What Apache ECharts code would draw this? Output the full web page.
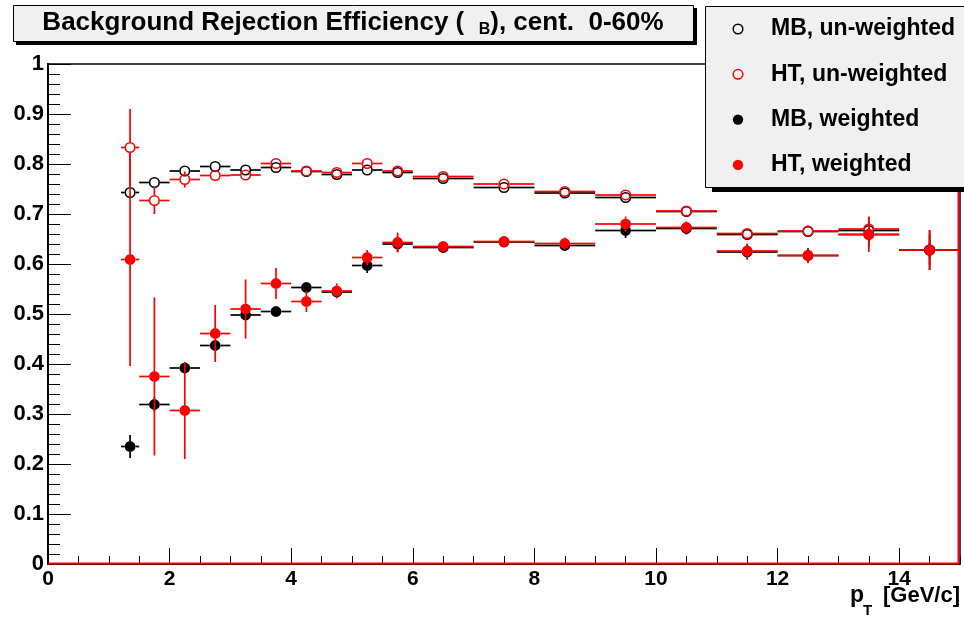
<!DOCTYPE html>
<html><head><meta charset="utf-8">
<script src="https://cdn.jsdelivr.net/npm/echarts@6/dist/echarts.min.js"></script>
<style>html,body{margin:0;padding:0;background:#fff}#c{width:964px;height:619px}</style>
</head><body><div id="c"></div>
<script>
// ---- data ----
const binLow  = [1.2, 1.5, 2.0, 2.5, 3.0, 3.5, 4.0, 4.5, 5.0, 5.5, 6, 7, 8, 9, 10, 11, 12, 13, 14];
const binHigh = [1.5, 2.0, 2.5, 3.0, 3.5, 4.0, 4.5, 5.0, 5.5, 6.0, 7, 8, 9, 10, 11, 12, 13, 14, 15];

const mbUnweighted    = [0.743, 0.763, 0.786, 0.795, 0.788, 0.793, 0.785, 0.779, 0.788, 0.783, 0.771, 0.753, 0.742, 0.733, 0.705, 0.659, 0.665, 0.667, 0.628];
const mbUnweightedErr = [0.008, 0.006, 0.005, 0.005, 0.004, 0.004, 0.004, 0.004, 0.004, 0.005, 0.004, 0.004, 0.005, 0.006, 0.006, 0.008, 0.010, 0.012, 0.015];

const htUnweighted    = [0.833, 0.727, 0.769, 0.777, 0.778, 0.801, 0.786, 0.783, 0.801, 0.786, 0.775, 0.760, 0.745, 0.738, 0.706, 0.661, 0.666, 0.670, 0.628];
const htUnweightedErr = [0.077, 0.027, 0.016, 0.008, 0.008, 0.006, 0.006, 0.006, 0.006, 0.006, 0.005, 0.005, 0.006, 0.007, 0.008, 0.010, 0.012, 0.025, 0.030];

const mbWeighted    = [0.235, 0.319, 0.392, 0.437, 0.498, 0.505, 0.553, 0.544, 0.597, 0.640, 0.633, 0.644, 0.637, 0.667, 0.671, 0.624, 0.617, 0.659, 0.628];
const mbWeightedErr = [0.023, 0.014, 0.012, 0.010, 0.010, 0.008, 0.008, 0.008, 0.015, 0.015, 0.008, 0.008, 0.010, 0.015, 0.012, 0.015, 0.015, 0.025, 0.040];

const htWeighted    = [0.609, 0.375, 0.307, 0.461, 0.510, 0.561, 0.525, 0.546, 0.613, 0.643, 0.635, 0.645, 0.641, 0.680, 0.673, 0.626, 0.617, 0.659, 0.628];
const htWeightedErr = [0.213, 0.158, 0.097, 0.057, 0.059, 0.031, 0.021, 0.015, 0.015, 0.020, 0.008, 0.010, 0.012, 0.015, 0.012, 0.015, 0.015, 0.035, 0.040];

const seriesNames = ['MB, un-weighted', 'HT, un-weighted', 'MB, weighted', 'HT, weighted'];
const yTickLabels = ['0','0.1','0.2','0.3','0.4','0.5','0.6','0.7','0.8','0.9','1'];
const xTickLabels = ['0','2','4','6','8','10','12','14'];

// ---- chart ----
const FONT = '"Liberation Sans", Arial, Helvetica, sans-serif';
const chart = echarts.init(document.getElementById('c'), null, {renderer: 'canvas'});

function makeSeries(name, vals, errs, color, open, z) {
  const data = vals.map((v, i) => [(binLow[i] + binHigh[i]) / 2, v, binLow[i], binHigh[i], errs[i]]);
  return {
    type: 'custom', name, data, z,
    xAxisIndex: 0, yAxisIndex: 0,
    encode: {x: 0, y: 1},
    renderItem(params, api) {
      const x = api.value(0), y = api.value(1), e = api.value(4);
      const c = api.coord([x, y]);
      const lo = api.coord([api.value(2), y]);
      const hi = api.coord([api.value(3), y]);
      const top = api.coord([x, y + e]);
      const bot = api.coord([x, y - e]);
      const r = 5.4;
      const ls = {stroke: color, lineWidth: 1.7};
      const ch = [];
      ch.push({type: 'line', shape: {x1: lo[0], y1: c[1], x2: c[0] - r, y2: c[1]}, style: ls});
      ch.push({type: 'line', shape: {x1: c[0] + r, y1: c[1], x2: hi[0], y2: c[1]}, style: ls});
      if (c[1] - top[1] > r) ch.push({type: 'line', shape: {x1: c[0], y1: top[1], x2: c[0], y2: c[1] - r}, style: ls});
      if (bot[1] - c[1] > r) ch.push({type: 'line', shape: {x1: c[0], y1: c[1] + r, x2: c[0], y2: bot[1]}, style: ls});
      ch.push({type: 'circle', shape: {cx: c[0], cy: c[1], r: open ? r - 0.6 : r},
        style: open ? {fill: null, stroke: color, lineWidth: 1.6} : {fill: color}});
      return {type: 'group', children: ch};
    }
  };
}

const frameSeries = {
  type: 'custom', name: 'frame', z: 20, silent: true,
  xAxisIndex: 0, yAxisIndex: 0,
  data: [[15, 0]],
  renderItem(params, api) {
    const p0 = api.coord([0, 0]);
    const p1 = api.coord([15, 0]);
    const p2 = api.coord([15, 1]);
    return {type: 'group', children: [
      {type: 'line', shape: {x1: p0[0], y1: p0[1] - 0.5, x2: p1[0] - 1, y2: p1[1] - 0.5}, style: {stroke: '#ff0000', lineWidth: 2.2}},
      {type: 'line', shape: {x1: p1[0] - 1.5, y1: p1[1], x2: p2[0] - 1.5, y2: p2[1]}, style: {stroke: '#ff0000', lineWidth: 2}}
    ]};
  }
};

const legendRows = [
  {name: seriesNames[0], color: '#000', open: true},
  {name: seriesNames[1], color: '#ff0000', open: true},
  {name: seriesNames[2], color: '#000', open: false},
  {name: seriesNames[3], color: '#ff0000', open: false}
];
const legendChildren = [
  {type: 'rect', z: 100, shape: {x: 712, y: 11, width: 260, height: 181}, style: {fill: '#000'}},
  {type: 'rect', z: 101, shape: {x: 705.5, y: 6.5, width: 262, height: 181}, style: {fill: '#f0f0f0', stroke: '#000', lineWidth: 1}}
];
legendRows.forEach((row, i) => {
  const cy = 29 + i * 45.3;
  legendChildren.push({type: 'circle', z: 102, shape: {cx: 738, cy, r: row.open ? 4.8 : 5.2},
    style: row.open ? {fill: null, stroke: row.color, lineWidth: 1.5} : {fill: row.color}});
  legendChildren.push({type: 'text', z: 102, x: 771, y: cy, style: {text: row.name, fill: '#000',
    font: 'bold 23px ' + FONT, textVerticalAlign: 'middle', textAlign: 'left'}});
});

const option = {
  backgroundColor: '#fff',
  animation: false,
  grid: {left: 48, top: 64, width: 912, height: 500, show: true, borderColor: '#000', borderWidth: 1.5, backgroundColor: '#fff'},
  xAxis: [
    {type: 'value', min: 0, max: 15, interval: 0.5, position: 'bottom',
      axisLine: {show: true, lineStyle: {color: '#000', width: 1}}, splitLine: {show: false},
      axisTick: {show: true, inside: true, length: 8, lineStyle: {color: '#000', width: 1}},
      axisLabel: {show: false}},
    {type: 'value', min: 0, max: 15, interval: 2, position: 'bottom',
      axisLine: {show: true, lineStyle: {color: '#000', width: 1}}, splitLine: {show: false},
      axisTick: {show: true, inside: true, length: 16, lineStyle: {color: '#000', width: 1}},
      axisLabel: {show: true, margin: 5, color: '#000', fontSize: 21, fontWeight: 'bold', fontFamily: FONT,
        showMaxLabel: false,
        formatter: v => { const i = Math.round(v / 2); return (Math.abs(v - i * 2) < 1e-6 && i < xTickLabels.length) ? xTickLabels[i] : ''; }}}
  ],
  yAxis: [{
    type: 'value', min: 0, max: 1, interval: 0.1,
    axisLine: {show: true, lineStyle: {color: '#000', width: 2}}, splitLine: {show: false},
    axisTick: {show: true, inside: true, length: 23, lineStyle: {color: '#000', width: 1}},
    minorTick: {show: true, splitNumber: 5, length: 12, lineStyle: {color: '#000', width: 1}},
    minorSplitLine: {show: false},
    axisLabel: {show: true, margin: 4, color: '#000', fontSize: 22, fontWeight: 'bold', fontFamily: FONT,
      formatter: v => yTickLabels[Math.round(v * 10)]}
  }],
  graphic: [
    {type: 'rect', z: 100, shape: {x: 16, y: 8, width: 681, height: 37}, style: {fill: '#000'}},
    {type: 'rect', z: 101, shape: {x: 13.5, y: 5.5, width: 680, height: 36}, style: {fill: '#f0f0f0', stroke: '#000', lineWidth: 1}},
    {type: 'text', z: 102, x: 353, y: 23, style: {
      text: '{t|Background Rejection Efficiency (  }{s|B}{t|), cent.  0-60%}',
      textAlign: 'center', textVerticalAlign: 'middle',
      rich: {
        t: {font: 'bold 26px ' + FONT, fill: '#000', lineHeight: 30, verticalAlign: 'middle'},
        s: {font: 'bold 16px ' + FONT, fill: '#000', lineHeight: 10, verticalAlign: 'bottom'}
      }}},
    {type: 'group', children: legendChildren},
    {type: 'text', z: 102, x: 850, y: 596, style: {text: 'p', font: 'bold 23px ' + FONT, fill: '#000',
      textAlign: 'left', textVerticalAlign: 'middle'}},
    {type: 'text', z: 102, x: 863, y: 611, style: {text: 'T', font: 'bold 15px ' + FONT, fill: '#000',
      textAlign: 'left', textVerticalAlign: 'middle'}},
    {type: 'text', z: 102, x: 960, y: 596, style: {text: '[GeV/c]', font: 'bold 22px ' + FONT, fill: '#000',
      textAlign: 'right', textVerticalAlign: 'middle'}}
  ],
  series: [
    makeSeries(seriesNames[0], mbUnweighted, mbUnweightedErr, '#000', true, 2),
    makeSeries(seriesNames[1], htUnweighted, htUnweightedErr, '#ff0000', true, 3),
    makeSeries(seriesNames[2], mbWeighted, mbWeightedErr, '#000', false, 4),
    makeSeries(seriesNames[3], htWeighted, htWeightedErr, '#ff0000', false, 5),
    frameSeries
  ]
};
chart.setOption(option);
</script>
</body></html>
